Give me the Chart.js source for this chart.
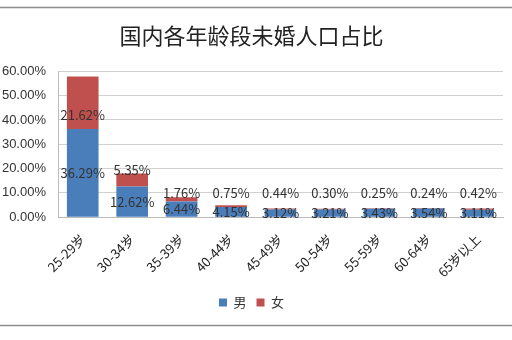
<!DOCTYPE html>
<html>
<head>
<meta charset="utf-8">
<script src="https://cdn.jsdelivr.net/npm/chart.js@4/dist/chart.umd.min.js"></script>
<style>
  html, body { margin: 0; padding: 0; background: #fff; }
  #wrap { width: 512px; height: 340px; }
</style>
</head>
<body>
<div id="wrap"><canvas id="chart" width="512" height="340"></canvas></div>
<script>
// data
const ageGroups = ['25-29岁', '30-34岁', '35-39岁', '40-44岁', '45-49岁', '50-54岁', '55-59岁', '60-64岁', '65岁以上'];
const maleShare = [36.29, 12.62, 6.44, 4.15, 3.12, 3.21, 3.43, 3.54, 3.11];
const femaleShare = [21.62, 5.35, 1.76, 0.75, 0.44, 0.30, 0.25, 0.24, 0.42];
const yTicks = [0, 10, 20, 30, 40, 50, 60];

const fontFamily = '"Noto Sans CJK SC", "Liberation Sans", sans-serif';

// draws the value labels and the frame lines
const labelPlugin = {
  id: 'labelPlugin',
  afterDraw(chart) {
    const ctx = chart.ctx;
    const yScale = chart.scales.y;
    ctx.save();
    ctx.font = '13px ' + fontFamily;
    ctx.fillStyle = '#333';
    ctx.textAlign = 'center';
    ctx.textBaseline = 'middle';

    const maleMeta = chart.getDatasetMeta(0);
    const femaleMeta = chart.getDatasetMeta(1);
    maleMeta.data.forEach((bar, i) => {
      const mid = (bar.y + bar.base) / 2;
      ctx.fillText(maleShare[i].toFixed(2) + '%', bar.x, mid);
    });
    femaleMeta.data.forEach((bar, i) => {
      let y;
      if (i === 0) {
        y = (bar.y + bar.base) / 2 + 12;
      } else {
        // small segments: label sits above the stack
        y = Math.min(bar.y - 3, yScale.getPixelForValue(10));
      }
      ctx.fillText(femaleShare[i].toFixed(2) + '%', bar.x, y);
    });

    // frame lines top and bottom
    ctx.strokeStyle = '#8c8c8c';
    ctx.lineWidth = 1.5;
    ctx.beginPath();
    ctx.moveTo(0, 7.5);
    ctx.lineTo(512, 7.5);
    ctx.moveTo(0, 325.5);
    ctx.lineTo(512, 325.5);
    ctx.stroke();
    ctx.restore();
  }
};

const ctx = document.getElementById('chart').getContext('2d');
new Chart(ctx, {
  type: 'bar',
  data: {
    labels: ageGroups,
    datasets: [
      {
        label: '男',
        data: maleShare,
        backgroundColor: '#4a7ebb',
        categoryPercentage: 0.64,
        barPercentage: 1
      },
      {
        label: '女',
        data: femaleShare,
        backgroundColor: '#c0504d',
        categoryPercentage: 0.64,
        barPercentage: 1
      }
    ]
  },
  options: {
    responsive: false,
    animation: false,
    layout: {
      autoPadding: false,
      padding: { left: 0, right: 9, top: 12, bottom: 21 }
    },
    plugins: {
      title: {
        display: true,
        text: '国内各年龄段未婚人口占比',
        color: '#222',
        font: { family: fontFamily, size: 22, weight: 'normal' },
        padding: { top: 10, bottom: 23 }
      },
      legend: {
        position: 'bottom',
        labels: {
          boxWidth: 8,
          boxHeight: 8,
          color: '#333',
          font: { family: fontFamily, size: 13 },
          padding: 10
        }
      },
      tooltip: { enabled: false }
    },
    scales: {
      x: {
        stacked: true,
        grid: { display: false },
        border: { color: '#bbb' },
        ticks: {
          minRotation: 45,
          maxRotation: 45,
          color: '#222',
          font: { family: fontFamily, size: 13 },
          padding: 6
        }
      },
      y: {
        stacked: true,
        min: 0,
        max: 60,
        afterBuildTicks(axis) {
          axis.ticks = yTicks.map(v => ({ value: v }));
        },
        afterFit(axis) {
          axis.width = 58;
        },
        grid: { color: '#d0d0d0', drawTicks: false },
        border: { color: '#bbb' },
        ticks: {
          color: '#333',
          padding: 12,
          font: { family: '"Liberation Sans", sans-serif', size: 13 },
          callback: v => v.toFixed(2) + '%'
        }
      }
    }
  },
  plugins: [labelPlugin]
});
</script>
</body>
</html>
